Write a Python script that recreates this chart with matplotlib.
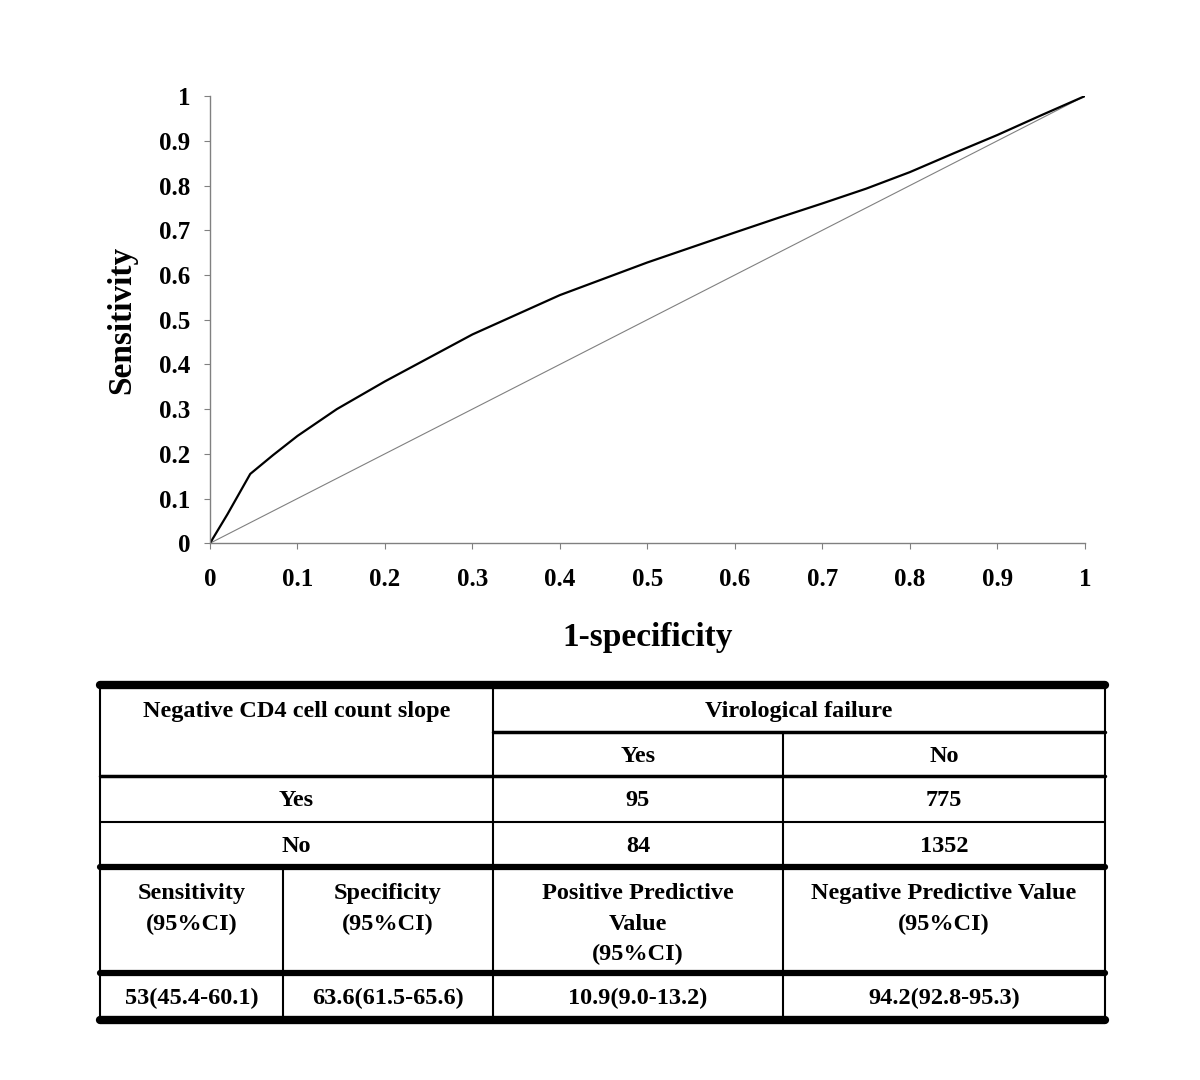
import matplotlib
matplotlib.use('Agg')
import matplotlib.pyplot as plt
from matplotlib.lines import Line2D

# ROC curve data
fpr = [0, 0.02, 0.046, 0.072, 0.1, 0.145, 0.2, 0.3, 0.4, 0.5, 0.6, 0.65, 0.7, 0.75, 0.8, 0.85, 0.9, 0.95, 1.0]
tpr = [0, 0.065, 0.155, 0.197, 0.24, 0.30, 0.362, 0.467, 0.555, 0.628, 0.695, 0.728, 0.76, 0.793, 0.83, 0.872, 0.913, 0.957, 1.0]
ref_line = [0, 1]
ticks = [0, 0.1, 0.2, 0.3, 0.4, 0.5, 0.6, 0.7, 0.8, 0.9, 1]
tick_labels = ['0', '0.1', '0.2', '0.3', '0.4', '0.5', '0.6', '0.7', '0.8', '0.9', '1']

# table contents
row_header = 'Negative CD4 cell count slope'
col_header = 'Virological failure'
col_names = ['Yes', 'No']
row_names = ['Yes', 'No']
counts = [['95', '775'], ['84', '1352']]
stat_names = ['Sensitivity\n(95%CI)', 'Specificity\n(95%CI)',
              'Positive Predictive\nValue\n(95%CI)', 'Negative Predictive Value\n(95%CI)']
stat_values = ['53(45.4-60.1)', '63.6(61.5-65.6)', '10.9(9.0-13.2)', '94.2(92.8-95.3)']

plt.rcParams['font.family'] = ['Liberation Serif', 'DejaVu Serif']
plt.rcParams['font.weight'] = 'bold'

fig = plt.figure(figsize=(12, 10.8), dpi=100)

#ROC plot ----------------------------------------------------------------
ax = fig.add_axes([0.175, 0.497, 0.729, 0.414])
ax.plot(ref_line, ref_line, color='gray', lw=0.8)
ax.plot(fpr, tpr, color='black', lw=1.6)
ax.set_xlim(0, 1)
ax.set_ylim(0, 1)
ax.set_xticks(ticks)
ax.set_yticks(ticks)
ax.set_xticklabels(tick_labels, fontsize=18, fontweight='bold')
ax.set_yticklabels(tick_labels, fontsize=18, fontweight='bold')
for s in ['top', 'right']:
    ax.spines[s].set_visible(False)
for s in ['left', 'bottom']:
    ax.spines[s].set_color('gray')
    ax.spines[s].set_linewidth(1)
ax.tick_params(axis='x', length=4, color='gray', pad=14)
ax.tick_params(axis='y', length=4, color='gray', pad=10)
ax.set_xlabel('1-specificity', fontsize=24, fontweight='bold', labelpad=22)
ax.set_ylabel('Sensitivity', fontsize=24, fontweight='bold', labelpad=16)

#Table ------------------------------------------------------------------
tb = fig.add_axes([0, 0, 1, 1])
tb.set_xlim(0, 1200)
tb.set_ylim(1080, 0)
tb.axis('off')

def hline(x0, x1, y, lw):
    tb.add_line(Line2D([x0, x1], [y, y], color='black', lw=lw, solid_capstyle='round'))

def vline(x, y0, y1, lw=1.5):
    tb.add_line(Line2D([x, x], [y0, y1], color='black', lw=lw, solid_capstyle='butt'))

L, R = 100, 1105
c1, c2 = 493, 783
cs = 283
rows = [685, 732, 776, 822, 867, 973, 1020]

hline(L, R, rows[0], 6)
hline(c1, R, rows[1], 2.5)
hline(L, R, rows[2], 2.5)
hline(L, R, rows[3], 1.5)
hline(L, R, rows[4], 4.5)
hline(L, R, rows[5], 4.5)
hline(L, R, rows[6], 6)

vline(L, rows[0], rows[6])
vline(R, rows[0], rows[6])
vline(c1, rows[0], rows[6])
vline(c2, rows[1], rows[6])
vline(cs, rows[4], rows[6])

fs = 17.5
tb.text((L + c1) / 2, 711, row_header, ha='center', va='center', fontsize=fs, fontweight='bold')
tb.text((c1 + R) / 2, 711, col_header, ha='center', va='center', fontsize=fs, fontweight='bold')
col_x = [(c1 + c2) / 2, (c2 + R) / 2]
for j, name in enumerate(col_names):
    tb.text(col_x[j], 756, name, ha='center', va='center', fontsize=fs, fontweight='bold')
row_y = [801, 847]
for i, name in enumerate(row_names):
    tb.text((L + c1) / 2, row_y[i], name, ha='center', va='center', fontsize=fs, fontweight='bold')
    for j in range(2):
        tb.text(col_x[j], row_y[i], counts[i][j], ha='center', va='center', fontsize=fs, fontweight='bold')

stat_x = [(L + cs) / 2, (cs + c1) / 2, (c1 + c2) / 2, (c2 + R) / 2]
for k in range(4):
    tb.text(stat_x[k], 883, stat_names[k], ha='center', va='top', fontsize=fs,
            fontweight='bold', linespacing=1.6)
    tb.text(stat_x[k], 998, stat_values[k], ha='center', va='center', fontsize=fs, fontweight='bold')

fig.savefig('out.png', dpi=100)
